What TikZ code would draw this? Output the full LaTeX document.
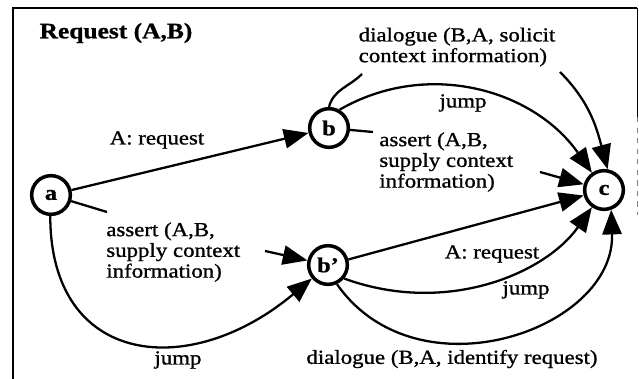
\documentclass[tikz,border=0pt]{standalone}
\usepackage{fontspec}
\setmainfont{Liberation Serif}[FakeStretch=1.15, FakeBold=1]
\usetikzlibrary{arrows.meta}

\begin{document}
\begin{tikzpicture}[scale=0.2]
\tikzstyle{every node}+=[inner sep=0pt]
\tikzstyle{state}=[circle, draw=black, line width=2pt, minimum size=22pt, font=\bfseries\fontsize{12}{12}\selectfont]
\tikzstyle{edge}=[black, line width=1.3pt]
\tikzstyle{arr}=[edge, -{Triangle[length=14pt,width=11pt]}]
\tikzstyle{lbl}=[font=\fontsize{11.3}{11.8}\selectfont, align=left]
\useasboundingbox (0,0) rectangle (63.9,-37.9);
\draw [black, line width=1.2pt] (1.3,-37.9) -- (1.3,-0.8) -- (63.7,-0.8);
\draw [black, line width=0.5pt] (63.7,-0.8) -- (63.7,-11.7);
\draw [black!50, line width=0.5pt, dashed] (63.7,-11.7) -- (63.7,-21.5);
\node [font=\bfseries\fontsize{12.6}{13}\selectfont] (title) at (11.6,-3.3) {Request (A,B)};
\node [state] (a) at (5.1,-19.5) {a};
\node [state] (b) at (32.9,-12.8) {b};
\node [state] (bp) at (32.8,-26.5) {b’};
\node [state] (c) at (60.4,-19.0) {c};
\draw [arr] (a) -- (b);
\node [lbl] (l1) at (15.7,-14.0) {A: request};
\coordinate (s1) at (10.7,-21.2);
\coordinate (s2) at (26.5,-25.1);
\draw [edge] (a) -- (s1);
\draw [arr] (s2) -- (bp);
\node [lbl, anchor=north west] (l2) at (10.6,-22.2) {assert (A,B,\\supply context\\information)};
\draw [arr] (a.-92) .. controls +(-90:15) and +(-140:16) .. (bp.-140);
\node [lbl] (l3) at (17.8,-36.0) {jump};
\coordinate (s3) at (37.3,-13.2);
\coordinate (s4) at (54.0,-17.2);
\draw [edge] (b) -- (s3);
\draw [arr] (s4) -- (c);
\node [lbl, anchor=north west] (l4) at (37.9,-13.2) {assert (A,B,\\supply context\\information)};
\draw [arr] (b.60) to[out=30, in=125] (c);
\node [lbl] (l5) at (46.3,-10.3) {jump};
\coordinate (d1) at (36.2,-7.4);
\coordinate (d2) at (56.0,-7.2);
\draw [edge] (b.north) to[out=75, in=-135] (d1);
\draw [arr] (d2) to[out=-45, in=105] (c.80);
\node [lbl] (l6) at (45.7,-4.7) {dialogue (B,A, solicit\\context information)};
\draw [arr] (bp) -- (c);
\node [lbl] (l7) at (49.2,-25.4) {A: request};
\draw [arr] (bp.-40) .. controls +(-20:11) and +(-125:8) .. (c.-125);
\node [lbl] (l8) at (52.6,-29.0) {jump};
\draw [arr] (bp.-65) .. controls +(-55:14) and +(-88:12) .. (c.-70);
\node [lbl] (l9) at (45.2,-35.9) {dialogue (B,A, identify request)};
\end{tikzpicture}
\end{document}
